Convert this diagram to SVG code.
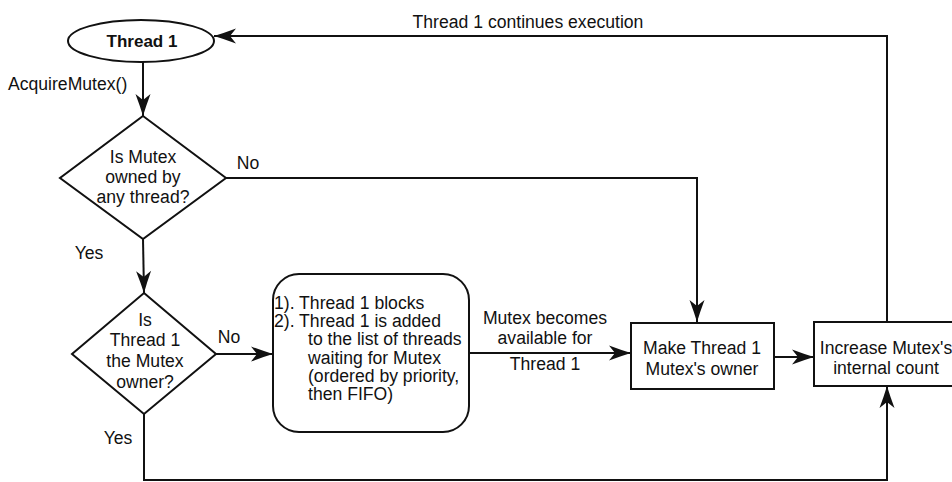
<svg xmlns="http://www.w3.org/2000/svg" width="952" height="482" viewBox="0 0 952 482">
<style>
.s{fill:#fff;stroke:#111;stroke-width:2}
.c{fill:none;stroke:#111;stroke-width:2}
text{font-family:"Liberation Sans",Arial,sans-serif;font-size:17.6px;fill:#111}
.m{text-anchor:middle}
.b{font-weight:bold;font-size:17px}
</style>
<defs>
<marker id="ah" markerUnits="userSpaceOnUse" markerWidth="26" markerHeight="18" viewBox="-23 -9 24 18" refX="0" refY="0" orient="auto">
<path d="M0,0 Q-10,-3 -22,-7.5 L-16,0 L-22,7.5 Q-10,3 0,0 Z" fill="#111"/>
</marker>
</defs>
<rect width="952" height="482" fill="#fff"/>
<g id="connectors">
<path class="c" d="M143,62 L143,116" marker-end="url(#ah)"/>
<path class="c" d="M143,239 L144,293" marker-end="url(#ah)"/>
<path class="c" d="M226,178 L697,178 L697,322" marker-end="url(#ah)"/>
<path class="c" d="M216,354 L273,354" marker-end="url(#ah)"/>
<path class="c" d="M469,353 L631,353" marker-end="url(#ah)"/>
<path class="c" d="M774,357 L814,357" marker-end="url(#ah)"/>
<path class="c" d="M144,414 L144,480 L887,480 L887,386" marker-end="url(#ah)"/>
<path class="c" d="M887,322 L887,36 L214,36" marker-end="url(#ah)"/>
<text x="8" y="90">AcquireMutex()</text>
<text x="248" y="169" class="m">No</text>
<text x="89" y="259" class="m">Yes</text>
<text x="229" y="343" class="m">No</text>
<text x="118" y="444" class="m">Yes</text>
<text x="545" y="324" class="m">Mutex becomes</text>
<text x="545" y="344" class="m">available for</text>
<text x="545" y="370" class="m">Thread 1</text>
<text x="528" y="28" class="m">Thread 1 continues execution</text>
</g>
<g id="start">
<ellipse class="s" cx="141" cy="41" rx="73" ry="21"/>
<text x="142" y="47" class="m b">Thread 1</text>
</g>
<g id="decision1">
<polygon class="s" points="143,116 226,178 143,239 60,178"/>
<text x="143" y="163" class="m">Is Mutex</text>
<text x="143" y="183" class="m">owned by</text>
<text x="143" y="203" class="m">any thread?</text>
</g>
<g id="decision2">
<polygon class="s" points="144,293 216,354 144,414 72,354"/>
<text x="145" y="326" class="m">Is</text>
<text x="145" y="346" class="m">Thread 1</text>
<text x="145" y="367" class="m">the Mutex</text>
<text x="145" y="388" class="m">owner?</text>
</g>
<g id="block">
<rect class="s" x="273" y="274" width="196" height="158" rx="26" ry="26"/>
<text x="274" y="309">1). Thread 1 blocks</text>
<text x="274" y="327">2). Thread 1 is added</text>
<text x="308" y="345">to the list of threads</text>
<text x="308" y="364">waiting for Mutex</text>
<text x="308" y="382">(ordered by priority,</text>
<text x="308" y="400">then FIFO)</text>
</g>
<g id="owner">
<rect class="s" x="631" y="323" width="143" height="66"/>
<text x="702" y="354" class="m">Make Thread 1</text>
<text x="702" y="375" class="m">Mutex's owner</text>
</g>
<g id="count">
<rect class="s" x="814" y="322" width="146" height="64"/>
<text x="886" y="354" class="m">Increase Mutex's</text>
<text x="886" y="374" class="m">internal count</text>
</g>
</svg>
